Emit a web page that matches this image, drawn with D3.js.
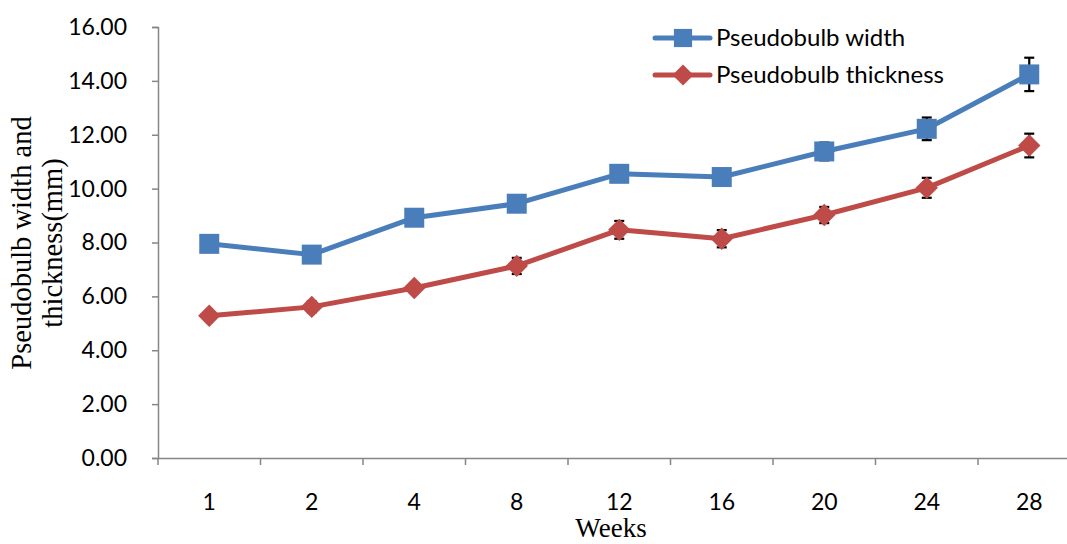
<!DOCTYPE html>
<html><head><meta charset="utf-8">
<script src="https://cdn.jsdelivr.net/npm/d3@7"></script>
<style>body{margin:0;background:#fff}svg{display:block}</style>
</head><body>
<svg id="chart" width="1067" height="544"></svg>
<script>
const weeks = ["1","2","4","8","12","16","20","24","28"];
const widthVals = [7.95, 7.55, 8.92, 9.44, 10.55, 10.43, 11.38, 12.22, 14.24];
const widthErr = [0.15, 0.15, 0.15, 0.15, 0.15, 0.15, 0.33, 0.42, 0.62];
const thickVals = [5.28, 5.61, 6.31, 7.13, 8.47, 8.14, 9.02, 10.03, 11.6];
const thickErr = [0.15, 0.2, 0.18, 0.3, 0.33, 0.32, 0.3, 0.37, 0.44];
const yTicks = [0, 2, 4, 6, 8, 10, 12, 14, 16];
const seriesNames = ["Pseudobulb width", "Pseudobulb thickness"];

const svg = d3.select("#chart");
const plotLeft = 158, plotBottom = 458, plotTop = 27;
const band = 102.5;
const x = d3.scaleBand().domain(weeks).range([plotLeft, plotLeft + band * weeks.length]).padding(0);
const y = d3.scaleLinear().domain([0, 16]).range([plotBottom, plotTop]);
const axisColor = "#868686";
const font = "Lato, 'Open Sans', sans-serif";
const serif = "'Liberation Serif', 'Times New Roman', serif";

// Y axis
const yAxis = svg.append("g").attr("transform", `translate(${plotLeft},0)`)
  .call(d3.axisLeft(y).tickValues(yTicks).tickFormat(d3.format(".2f")).tickSize(6).tickPadding(25));
yAxis.select(".domain").attr("stroke", axisColor).attr("stroke-width", 1.5);
yAxis.selectAll(".tick line").attr("stroke", axisColor).attr("stroke-width", 1.5);
yAxis.selectAll(".tick text").attr("font-family", font).attr("font-size", 23).attr("fill", "#000");

// X axis
const xAxis = svg.append("g").attr("transform", `translate(0,${plotBottom})`)
  .call(d3.axisBottom(x).tickSize(0).tickPadding(36));
xAxis.select(".domain").attr("stroke", axisColor).attr("stroke-width", 1.5);
xAxis.selectAll(".tick text").attr("font-family", font).attr("font-size", 23).attr("fill", "#000");
const bounds = d3.range(weeks.length + 1).map(i => plotLeft + i * band);
svg.append("g").selectAll("line").data(bounds).join("line")
  .attr("x1", d => d).attr("x2", d => d).attr("y1", plotBottom).attr("y2", plotBottom + 7)
  .attr("stroke", axisColor).attr("stroke-width", 1.5);

// Titles
svg.append("text").attr("x", 611).attr("y", 537).attr("text-anchor", "middle")
  .attr("font-family", serif).attr("font-size", 27).text("Weeks");
const yt = svg.append("text").attr("transform", "translate(0,243) rotate(-90)")
  .attr("text-anchor", "middle").attr("font-family", serif).attr("font-size", 28.5);
yt.append("tspan").attr("x", 0).attr("y", 31).text("Pseudobulb width and");
yt.append("tspan").attr("x", 0).attr("y", 62).text("thickness(mm)");

const cx = d => x(d) + x.bandwidth() / 2;
const series = [
  {vals: widthVals, err: widthErr, color: "#4a7ebb", rot: 0, size: 400},
  {vals: thickVals, err: thickErr, color: "#be4b48", rot: 45, size: 250}
];
const line = d3.line();

series.forEach(s => {
  const pts = weeks.map((w, i) => [cx(w), y(s.vals[i])]);
  svg.append("path").attr("d", line(pts)).attr("fill", "none").attr("stroke", s.color).attr("stroke-width", 5).attr("stroke-linejoin", "round");
});
series.forEach(s => {
  const g = svg.append("g").attr("stroke", "#000").attr("stroke-width", 2.2);
  weeks.forEach((w, i) => {
    const xc = cx(w), y1 = y(s.vals[i] + s.err[i]), y2 = y(s.vals[i] - s.err[i]);
    g.append("line").attr("x1", xc).attr("x2", xc).attr("y1", y1).attr("y2", y2);
    g.append("line").attr("x1", xc - 5).attr("x2", xc + 5).attr("y1", y1).attr("y2", y1);
    g.append("line").attr("x1", xc - 5).attr("x2", xc + 5).attr("y1", y2).attr("y2", y2);
  });
});
series.forEach(s => {
  svg.append("g").selectAll("path").data(weeks).join("path")
    .attr("transform", (w, i) => `translate(${cx(w)},${y(s.vals[i])}) rotate(${s.rot})`)
    .attr("d", d3.symbol().type(d3.symbolSquare).size(s.size)).attr("fill", s.color);
});

// legend
const leg = svg.append("g");
series.forEach((s, i) => {
  const ly = 38 + i * 37;
  leg.append("line").attr("x1", 655).attr("x2", 710).attr("y1", ly).attr("y2", ly).attr("stroke", s.color).attr("stroke-width", 5).attr("stroke-linecap", "round");
  leg.append("path").attr("transform", `translate(683,${ly}) rotate(${s.rot})`).attr("d", d3.symbol().type(d3.symbolSquare).size(i === 0 ? 330 : 220)).attr("fill", s.color);
  leg.append("text").attr("x", 716).attr("y", ly + 8).attr("font-family", font).attr("font-size", 24).text(seriesNames[i]);
});
</script>
</body></html>
